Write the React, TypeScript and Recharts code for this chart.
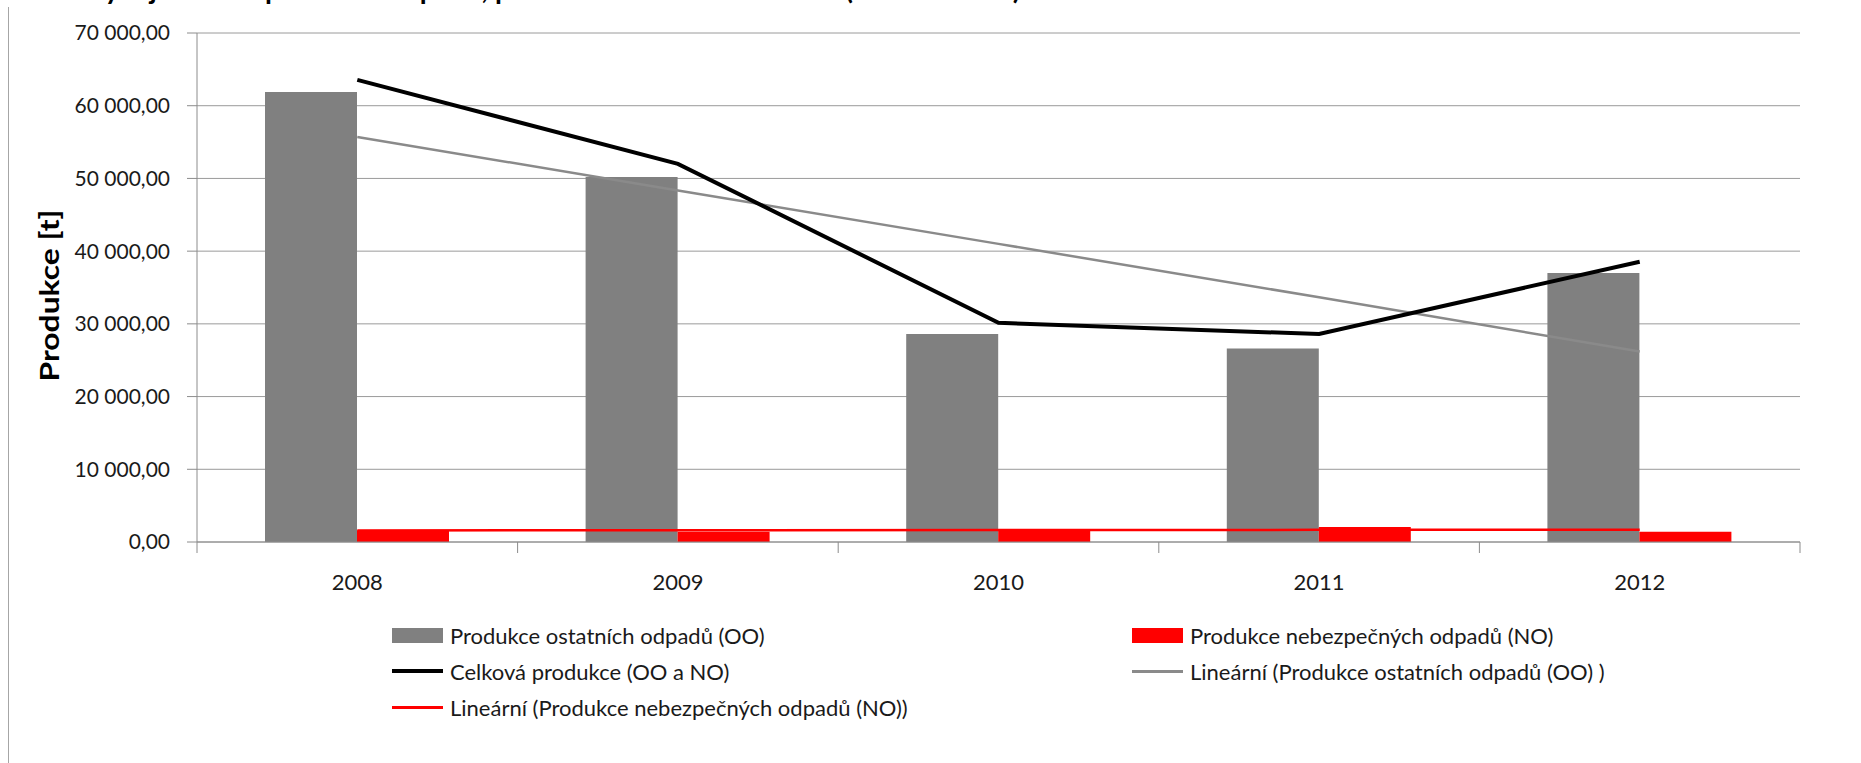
import { ComposedChart, Bar, Line, XAxis, YAxis, CartesianGrid, Legend, Label } from 'recharts'

// Produkce odpadů 2008–2012 (t)
const YEARS = ['2008', '2009', '2010', '2011', '2012']
const OSTATNI = [61900, 50200, 28600, 26600, 37000]
const NEBEZPECNE = [1600, 1420, 1750, 2050, 1420]
const CELKEM = [63550, 52000, 30150, 28600, 38550]
const TREND_OO = [55700, 48350, 41000, 33650, 26200]
const TREND_NO = [1590, 1620, 1645, 1670, 1700]
const Y_TICKS = [0, 10000, 20000, 30000, 40000, 50000, 60000, 70000]

const NAME_OO = 'Produkce ostatních odpadů (OO)'
const NAME_NO = 'Produkce nebezpečných odpadů (NO)'
const NAME_TOTAL = 'Celková produkce (OO a NO)'
const NAME_TREND_OO = 'Lineární (Produkce ostatních odpadů (OO) )'
const NAME_TREND_NO = 'Lineární (Produkce nebezpečných odpadů (NO))'

const data = YEARS.map((year, i) => ({
  year,
  oo: OSTATNI[i],
  no: NEBEZPECNE[i],
  total: CELKEM[i],
  trendOO: TREND_OO[i],
  trendNO: TREND_NO[i],
}))

const W = 1861
const H = 763
const FONT = 'Lato, "Open Sans", sans-serif'
const AXIS = '#8c8c8c'
const GREY = '#808080'
const RED = '#ff0000'
const PLOT_LEFT = 197
const PLOT_RIGHT = 61
const BAND = (W - PLOT_LEFT - PLOT_RIGHT) / YEARS.length

const fmt = (v: number) => (v === 0 ? '0,00' : `${Math.floor(v / 1000)} 000,00`)

function XTick(props: any) {
  const { x, y, payload, index } = props
  const half = payload && payload.offset ? payload.offset : BAND / 2
  return (
    <g>
      <line x1={x - half} x2={x - half} y1={y} y2={y + 11} stroke={AXIS} />
      {index === YEARS.length - 1 && <line x1={x + half} x2={x + half} y1={y} y2={y + 11} stroke={AXIS} />}
      <text x={x} y={y + 48} textAnchor="middle" fontSize={22} fill="#1a1a1a" fontFamily={FONT}>
        {payload.value}
      </text>
    </g>
  )
}

const LEGEND_ITEMS = [
  { label: NAME_OO, kind: 'rect', color: GREY, col: 0, row: 0 },
  { label: NAME_NO, kind: 'rect', color: RED, col: 1, row: 0 },
  { label: NAME_TOTAL, kind: 'line', color: '#000', width: 4, col: 0, row: 1 },
  { label: NAME_TREND_OO, kind: 'line', color: '#8a8a8a', width: 3, col: 1, row: 1 },
  { label: NAME_TREND_NO, kind: 'line', color: RED, width: 3, col: 0, row: 2 },
]

function LegendBox() {
  const cols = [392, 1132]
  return (
    <div style={{ position: 'relative', width: W, height: 120, fontFamily: FONT, fontSize: 22, color: '#1a1a1a' }}>
      {LEGEND_ITEMS.map((it) => (
        <div
          key={it.label}
          style={{
            position: 'absolute',
            left: cols[it.col],
            top: 15 + it.row * 36,
            height: 30,
            display: 'flex',
            alignItems: 'center',
            whiteSpace: 'nowrap',
          }}
        >
          <span
            style={{
              display: 'inline-block',
              width: 51,
              height: it.kind === 'rect' ? 15 : it.width,
              background: it.color,
              marginRight: 7,
            }}
          />
          <span>{it.label}</span>
        </div>
      ))}
    </div>
  )
}

export default function App() {
  return (
    <div style={{ position: 'absolute', left: 0, top: 0, width: W, height: H, background: '#fff', overflow: 'hidden' }}>
      <div
        style={{
          position: 'absolute',
          left: -4,
          top: -26,
          lineHeight: '28px',
          fontSize: 28,
          fontWeight: 700,
          fontFamily: FONT,
          whiteSpace: 'nowrap',
          color: '#000',
        }}
      >
        Graf 1: Vývoj celkové produkce odpadů, produkce OO a NO v letech (2008 – 2012)
      </div>
      <div style={{ position: 'absolute', left: 8, top: 7, width: 1, height: H - 7, background: '#a6a6a6' }} />
      <ComposedChart
        width={W}
        height={H}
        data={data}
        margin={{ top: 33, right: PLOT_RIGHT, left: 0, bottom: 161 }}
        barGap={0}
        barSize={92}
      >
        <CartesianGrid vertical={false} stroke="#9a9a9a" />
        <XAxis
          dataKey="year"
          height={60}
          axisLine={{ stroke: AXIS }}
          tickLine={false}
          tickSize={0}
          tickMargin={0}
          tick={<XTick />}
          interval={0}
        />
        <YAxis
          width={PLOT_LEFT}
          domain={[0, 70000]}
          ticks={Y_TICKS}
          tickFormatter={fmt}
          axisLine={{ stroke: AXIS }}
          tickLine={{ stroke: AXIS }}
          tickSize={10}
          tickMargin={17}
          tick={{ fontSize: 21, fill: '#1a1a1a', fontFamily: FONT }}
        >
          <Label
            content={({ viewBox }: any) => {
              const cy = viewBox.y + viewBox.height / 2 + 8
              return (
                <text
                  x={48}
                  y={cy}
                  transform={`rotate(-90, 48, ${cy})`}
                  textAnchor="middle"
                  dominantBaseline="central"
                  fontSize={27}
                  fontWeight={700}
                  fontFamily={FONT}
                  fill="#000"
                  textLength={172}
                  lengthAdjust="spacingAndGlyphs"
                >
                  Produkce [t]
                </text>
              )
            }}
          />
        </YAxis>
        <Bar dataKey="oo" name={NAME_OO} fill={GREY} isAnimationActive={false} />
        <Bar dataKey="no" name={NAME_NO} fill={RED} isAnimationActive={false} />
        <Line type="linear" dataKey="trendOO" name={NAME_TREND_OO} stroke="#8a8a8a" strokeWidth={2.5} dot={false} isAnimationActive={false} />
        <Line type="linear" dataKey="trendNO" name={NAME_TREND_NO} stroke={RED} strokeWidth={2.5} dot={false} isAnimationActive={false} />
        <Line type="linear" dataKey="total" name={NAME_TOTAL} stroke="#000" strokeWidth={4} dot={false} isAnimationActive={false} />
        <Legend
          layout="horizontal"
          verticalAlign="middle"
          align="center"
          wrapperStyle={{ left: 0, top: 605, width: W, height: 120 }}
          content={() => <LegendBox />}
        />
      </ComposedChart>
    </div>
  )
}
